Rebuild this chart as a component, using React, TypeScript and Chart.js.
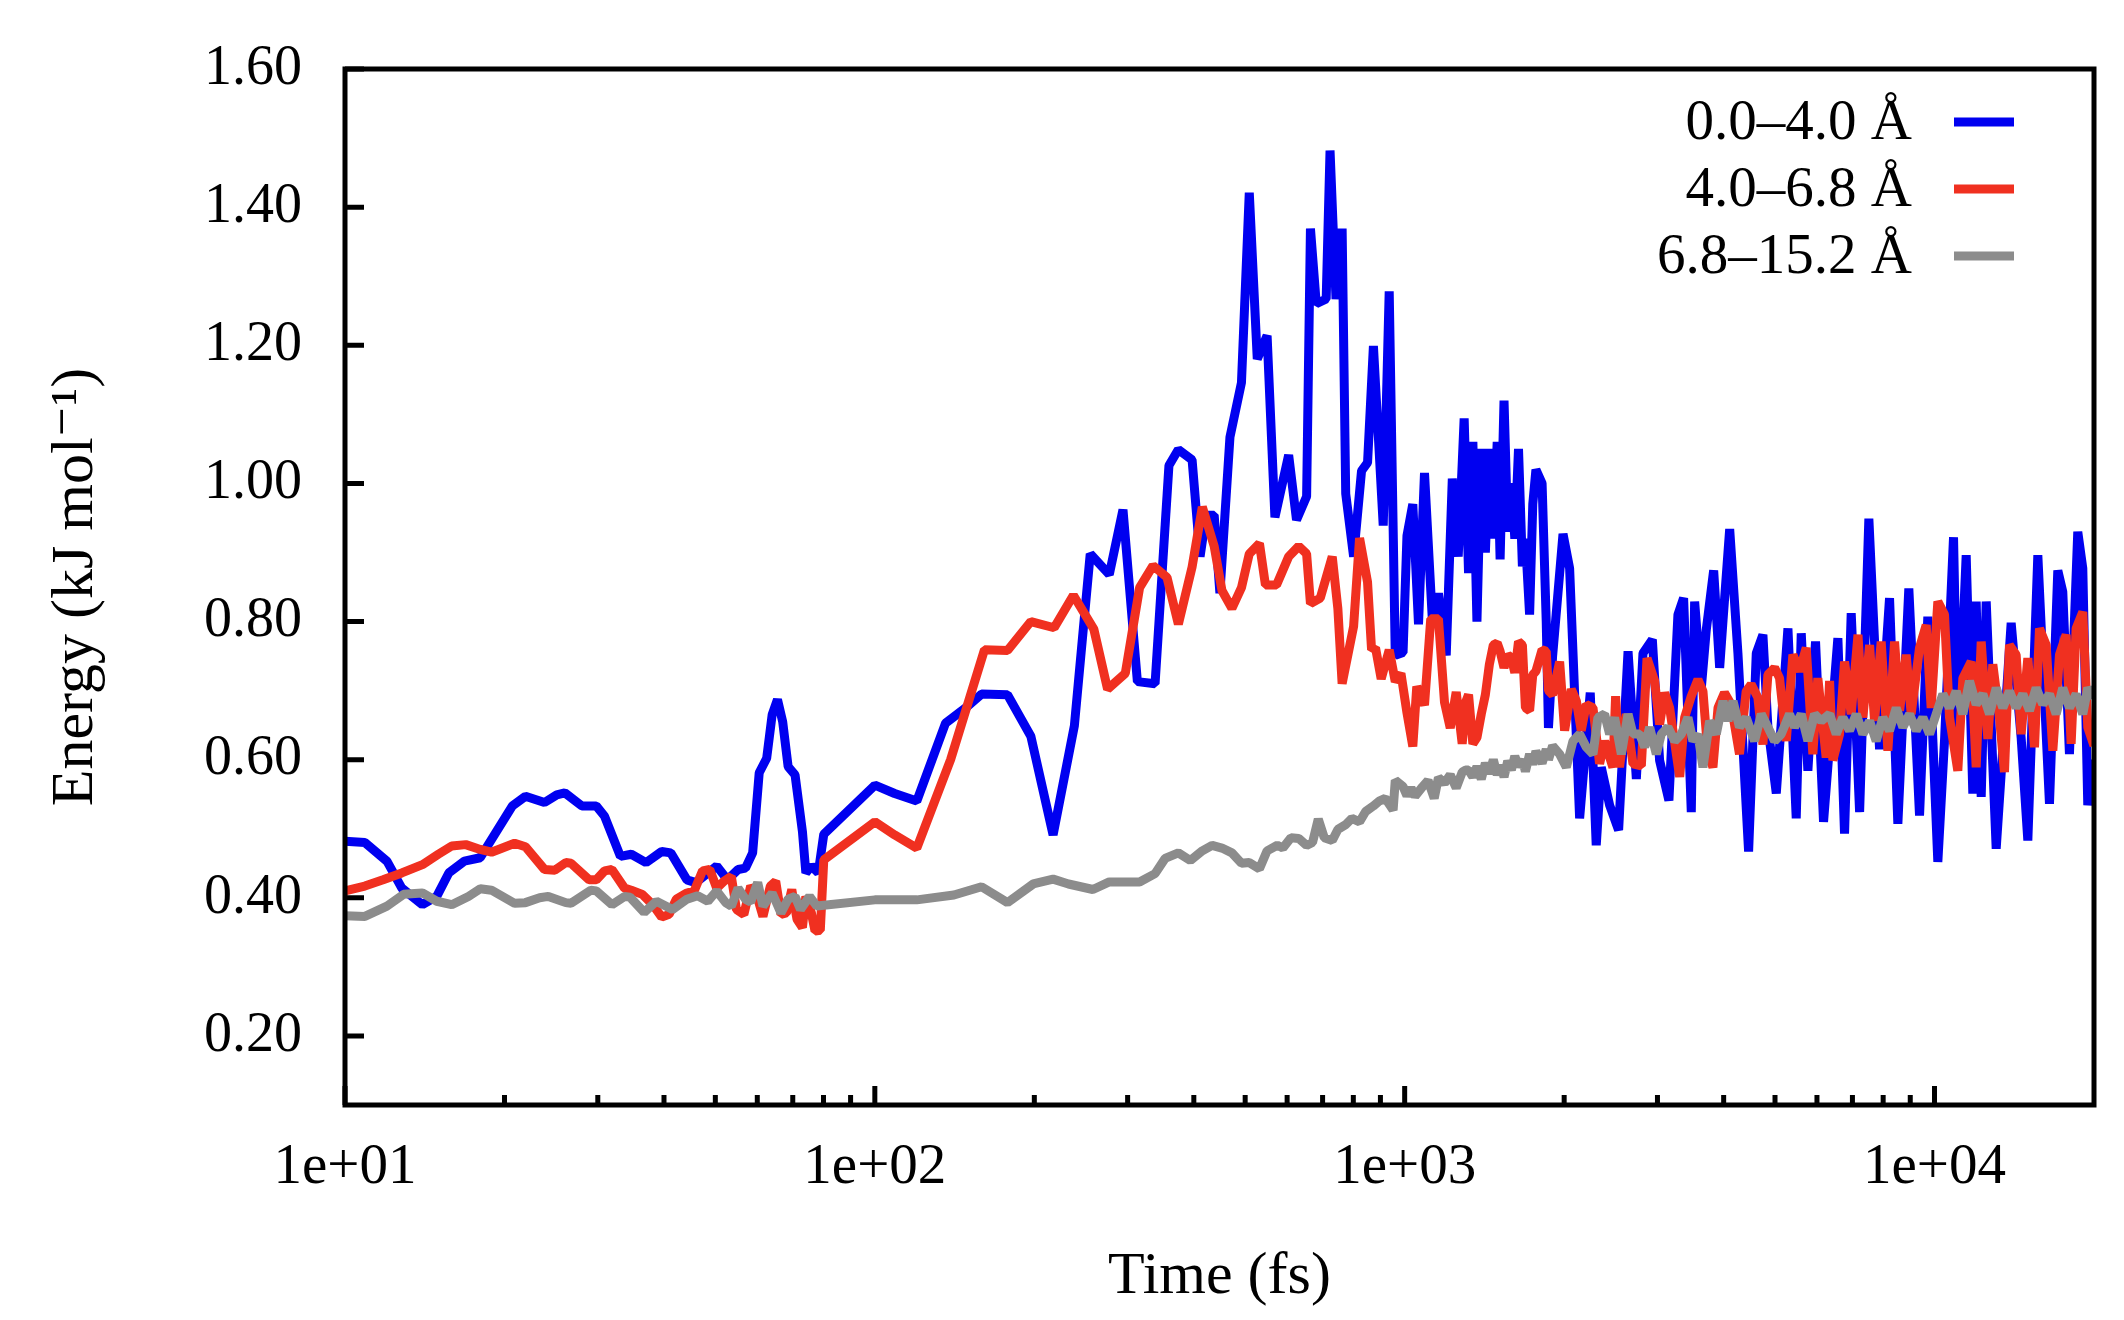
import { useEffect, useRef } from "react"
import { Chart, registerables } from "chart.js"

Chart.register(...registerables)

const blueTime = [
  10, 10.9, 12, 12.8, 14, 14.9, 15.7, 16.8, 18, 20.7,
  21.9, 23.8, 25.1, 26, 28, 29.8, 30.9, 33.1, 34.7, 37,
  39.6, 41.2, 44.2, 45.9, 50.3, 52.7, 55.2, 57, 58.8, 60.5,
  62.5, 64, 65.5, 67, 68.6, 70.7, 73, 74.1, 75.9, 78.2,
  80.1,
  100, 109, 120, 136, 149, 159, 178, 197, 217, 238,
  255, 277, 294, 313, 338, 359, 374, 397, 411, 422,
  437, 448, 468, 492, 509, 527, 550, 569, 604, 625,
  653, 664, 681, 711, 723, 742, 762, 774, 801, 829,
  851, 873, 911, 935, 960, 993, 1010, 1036, 1062, 1090,
  1129, 1158, 1198, 1230, 1262, 1295,
]
const blueEnergy = [
  0.482, 0.48, 0.453, 0.414, 0.39, 0.402, 0.436, 0.453, 0.458, 0.533,
  0.547, 0.538, 0.549, 0.552, 0.533, 0.533, 0.518, 0.46, 0.463, 0.451,
  0.467, 0.465, 0.426, 0.422, 0.446, 0.426, 0.441, 0.443, 0.465, 0.581,
  0.602, 0.665, 0.687, 0.655, 0.59, 0.578, 0.496, 0.436, 0.446, 0.436,
  0.492,
  0.563, 0.551, 0.54, 0.653, 0.676, 0.695, 0.694, 0.634, 0.491, 0.649,
  0.898, 0.868, 0.962, 0.713, 0.71, 1.026, 1.049, 1.034, 0.894, 0.954,
  0.954, 0.841, 1.067, 1.146, 1.421, 1.18, 1.214, 0.951, 1.041, 0.947,
  0.981, 1.369, 1.26, 1.267, 1.482, 1.267, 1.369, 0.985, 0.894, 1.018,
  1.03, 1.199, 0.939, 1.278, 0.751, 0.755, 0.924, 0.97, 0.796, 1.015,
  0.796, 0.841, 0.751, 1.007, 0.894, 1.094,
]

const redTime = [
  10, 10.9, 11.8, 12.8, 14, 15, 15.9, 16.9, 18, 18.9,
  20.9, 21.9, 23.8, 24.9, 26.1, 26.7, 28.9, 29.8, 30.9, 31.9,
  33.7, 34.7, 36.4, 38.1, 39.6, 40.9, 42.2, 44.2, 45.6, 47.3,
  48.8, 50.3, 51.9, 53.6, 54.8, 56.6, 58.3, 59.7, 61.5, 63.5,
  65, 66.5, 68.1, 69.7, 71.3, 73, 74.1, 75.9, 77.1, 78.9,
  80.1,
  100, 109, 120, 139, 161, 178, 197, 218, 237, 259,
  275, 297, 316, 335, 356, 374, 397, 415, 437, 452,
  472, 492, 509, 532, 546, 573, 604, 631, 653, 664,
  693, 730, 748, 762, 801, 822, 851, 866, 881, 903,
  935, 960, 984, 1010, 1036, 1054, 1090, 1120, 1158, 1189,
  1219, 1251, 1284, 1303,
]
const redEnergy = [
  0.41, 0.417, 0.426, 0.436, 0.448, 0.463, 0.475, 0.477, 0.47, 0.466,
  0.479, 0.474, 0.441, 0.44, 0.451, 0.45, 0.426, 0.426, 0.439, 0.441,
  0.414, 0.411, 0.405, 0.39, 0.372, 0.376, 0.398, 0.407, 0.41, 0.439,
  0.441, 0.414, 0.424, 0.431, 0.383, 0.376, 0.417, 0.407, 0.373, 0.417,
  0.424, 0.376, 0.378, 0.412, 0.369, 0.357, 0.402, 0.378, 0.352, 0.353,
  0.455,
  0.51, 0.491, 0.472, 0.6, 0.759, 0.758, 0.8, 0.791, 0.838, 0.789,
  0.702, 0.725, 0.849, 0.881, 0.864, 0.796, 0.879, 0.966, 0.909, 0.845,
  0.819, 0.849, 0.898, 0.913, 0.853, 0.853, 0.894, 0.909, 0.898, 0.826,
  0.834, 0.894, 0.819, 0.71, 0.793, 0.921, 0.857, 0.759, 0.762, 0.717,
  0.759, 0.713, 0.725, 0.668, 0.619, 0.706, 0.679, 0.804, 0.804, 0.683,
  0.646, 0.698, 0.623, 0.683,
]

const grayTime = [
  10, 10.9, 12, 12.9, 14, 14.9, 15.9, 17.1, 18, 18.9,
  20.9, 21.9, 23.3, 24.2, 26.1, 26.7, 29.1, 29.8, 31.9, 33.7,
  34.5, 36.7, 38.7, 41.5, 44.2, 46.3, 48.4, 50.3, 52.3, 53.6,
  55.2, 57, 58.3, 60.1, 61.5, 64, 66.5, 68.6, 70.7, 72.4,
  75.3, 77.7,
  100, 120, 141, 159, 178, 199, 217, 232, 258, 277,
  316, 338, 353, 374, 394, 415, 433, 452, 472, 492,
  509, 532, 550, 575, 589, 610, 631, 653, 670, 687,
  705, 730, 748, 774, 795, 822, 844, 873, 895, 919,
  951, 960, 993, 1010, 1028, 1046, 1081, 1107, 1137, 1158,
  1189, 1219, 1251, 1284, 1303,
]
const grayEnergy = [
  0.374, 0.373, 0.388, 0.405, 0.407, 0.395, 0.39, 0.402, 0.413, 0.411,
  0.392, 0.393, 0.4, 0.402, 0.393, 0.392, 0.411, 0.41, 0.39, 0.402,
  0.401, 0.379, 0.395, 0.383, 0.398, 0.403, 0.395, 0.41, 0.393, 0.388,
  0.414, 0.398, 0.394, 0.422, 0.388, 0.407, 0.378, 0.398, 0.402, 0.383,
  0.402, 0.388,
  0.397, 0.397, 0.404, 0.416, 0.393, 0.42, 0.427, 0.42, 0.412, 0.423,
  0.423, 0.435, 0.457, 0.465, 0.454, 0.468, 0.476, 0.472, 0.465, 0.45,
  0.451, 0.442, 0.468, 0.476, 0.472, 0.487, 0.486, 0.476, 0.48, 0.514,
  0.487, 0.483, 0.499, 0.506, 0.515, 0.51, 0.525, 0.533, 0.54, 0.544,
  0.527, 0.57, 0.561, 0.548, 0.559, 0.547, 0.561, 0.57, 0.544, 0.574,
  0.566, 0.578, 0.559, 0.582, 0.585,
]

// Noisy tail (1.3 ps - 20 ps)
const blueTailTime = [
  1320, 1345, 1369, 1395, 1420, 1445, 1470, 1495, 1514, 1540,
  1565, 1590, 1614, 1640, 1668, 1690, 1721, 1745, 1769, 1817,
  1850, 1868, 1902,
  1990, 2048, 2139, 2240, 2299, 2350, 2437, 2534, 2640, 2737,
  2817, 2934, 3028, 3153, 3279, 3361, 3475, 3526, 3630, 3709,
  3830, 3931, 3989, 4106, 4256, 4458, 4609, 4744, 4848, 5028,
  5289, 5483, 5604, 5768, 5963, 6174,
  6571, 6764, 6963, 7222, 7518, 7876, 8225, 8528, 8944, 9370,
  9714, 10146, 10444, 10862, 11066, 11476, 11812, 11985, 12250, 12519,
  13075, 13954, 14572, 15002, 15668, 16482, 17089, 17463, 17976, 18638,
  19049, 19467, 20000,
]
const blueTail = [
  0.87, 1.06, 0.8, 1.05, 0.9, 1.05, 0.92, 1.06, 0.89, 1.12,
  0.93, 1.0, 0.92, 1.05, 0.88, 0.92, 0.81, 0.97, 1.02, 1.0,
  0.8, 0.646, 0.75,
  0.927, 0.877, 0.515, 0.697, 0.476, 0.589, 0.534, 0.498, 0.757, 0.572,
  0.754, 0.774, 0.599, 0.541, 0.81, 0.834, 0.524, 0.829, 0.704, 0.788,
  0.874, 0.733, 0.802, 0.934, 0.754, 0.467, 0.754, 0.781, 0.647, 0.551,
  0.79, 0.515, 0.783, 0.584, 0.771, 0.51,
  0.776, 0.493, 0.812, 0.524, 0.949, 0.615, 0.834, 0.507, 0.848, 0.519,
  0.807, 0.452, 0.627, 0.922, 0.608, 0.896, 0.551, 0.829, 0.546, 0.829,
  0.471, 0.798, 0.632, 0.483, 0.896, 0.536, 0.874, 0.843, 0.608, 0.93,
  0.877, 0.534, 0.6,
]

const redTailTime = [
  1320, 1345, 1369, 1395, 1420, 1445, 1470, 1495, 1514, 1540,
  1565, 1590, 1614, 1640, 1668, 1690, 1721, 1745, 1769, 1817,
  1850, 1868, 1902,
  1961, 2004, 2063, 2109, 2154, 2202, 2267, 2333, 2384, 2472,
  2501, 2544, 2620, 2697, 2797, 2867, 2963, 3028, 3095, 3163,
  3304, 3376, 3475, 3577, 3656, 3736, 3818, 3903, 4014, 4133,
  4285, 4411, 4508, 4641, 4744, 4848, 4991, 5100, 5251, 5404,
  5563, 5727, 5894, 6023, 6245,
  6338, 6429, 6620, 6764, 6963, 7171, 7325, 7542, 7706, 7932,
  8166, 8406, 8593, 8842, 9036, 9370, 9645, 9856, 10146, 10444,
  10674, 11066, 11311, 11728, 11985, 12250, 12608, 12885, 13263, 13554,
  13851, 14259, 14572, 15002, 15443, 15781, 16246, 16723, 17215, 17720,
  18109, 18506, 19049, 19467, 20000,
]
const redTail = [
  0.694, 0.623, 0.632, 0.666, 0.694, 0.738, 0.766, 0.769, 0.757, 0.733,
  0.752, 0.747, 0.726, 0.771, 0.766, 0.675, 0.671, 0.723, 0.728, 0.759,
  0.757, 0.7, 0.694,
  0.742, 0.642, 0.702, 0.685, 0.642, 0.68, 0.675, 0.594, 0.627, 0.589,
  0.692, 0.589, 0.666, 0.594, 0.591, 0.747, 0.714, 0.651, 0.697, 0.675,
  0.575, 0.661, 0.692, 0.716, 0.699, 0.608, 0.589, 0.675, 0.697, 0.68,
  0.608, 0.699, 0.709, 0.69, 0.622, 0.723, 0.733, 0.718, 0.627, 0.752,
  0.728, 0.762, 0.608, 0.718, 0.603,
  0.714, 0.599, 0.637, 0.742, 0.666, 0.781, 0.661, 0.766, 0.656, 0.771,
  0.613, 0.771, 0.671, 0.752, 0.666, 0.762, 0.795, 0.675, 0.829, 0.81,
  0.661, 0.584, 0.718, 0.742, 0.589, 0.771, 0.63, 0.738, 0.661, 0.582,
  0.766, 0.752, 0.637, 0.747, 0.618, 0.79, 0.766, 0.613, 0.752, 0.781,
  0.623, 0.79, 0.814, 0.647, 0.62,
]

const grayTailTime = [
  1320, 1345, 1369, 1395, 1420, 1445, 1470, 1495, 1514, 1540,
  1565, 1590, 1614, 1640, 1668, 1690, 1721, 1745, 1769, 1817,
  1850, 1868, 1902,
  1961, 2019, 2078, 2139, 2202, 2267, 2316, 2384, 2437, 2490,
  2564, 2640, 2697, 2777, 2838, 2900, 2985, 3050, 3140, 3233,
  3328, 3425, 3500, 3577, 3656, 3763, 3874, 3989, 4076, 4166,
  4285, 4411, 4575, 4710, 4848, 4991, 5137, 5326, 5443, 5604,
  5768, 5937, 6112,
  6338, 6524, 6715, 6912, 7117, 7325, 7542, 7762, 7990, 8225,
  8467, 8716, 8972, 9235, 9506, 9786, 10073, 10369, 10674, 10987,
  11311, 11644, 11985, 12338, 12701, 13075, 13459, 13851, 14259, 14679,
  15110, 15554, 16012, 16482, 16967, 17463, 17976, 18506, 19049, 19467,
  20000,
]
const grayTail = [
  0.585, 0.575, 0.59, 0.572, 0.595, 0.58, 0.6, 0.578, 0.592, 0.575,
  0.598, 0.585, 0.605, 0.59, 0.6, 0.583, 0.608, 0.593, 0.612, 0.595,
  0.615, 0.6, 0.62,
  0.608, 0.589, 0.627, 0.637, 0.618, 0.608, 0.661, 0.666, 0.637, 0.661,
  0.608, 0.666, 0.637, 0.637, 0.618, 0.647, 0.608, 0.637, 0.647, 0.627,
  0.637, 0.661, 0.627, 0.637, 0.589, 0.656, 0.637, 0.685, 0.656, 0.685,
  0.647, 0.661, 0.627, 0.666, 0.647, 0.627, 0.637, 0.666, 0.647, 0.666,
  0.627, 0.666, 0.656,
  0.666, 0.637, 0.661, 0.642, 0.666, 0.637, 0.656, 0.627, 0.661, 0.642,
  0.675, 0.647, 0.666, 0.642, 0.661, 0.637, 0.666, 0.695, 0.675, 0.699,
  0.666, 0.714, 0.68, 0.695, 0.666, 0.704, 0.675, 0.699, 0.675, 0.695,
  0.671, 0.704, 0.68, 0.695, 0.666, 0.704, 0.675, 0.695, 0.666, 0.704,
  0.69,
]

const seriesLabels = ["0.0–4.0 Å", "4.0–6.8 Å", "6.8–15.2 Å"]
const seriesColors = ["#0000f0", "#f03020", "#8c8c8c"]

const yTickValues = [0.2, 0.4, 0.6, 0.8, 1.0, 1.2, 1.4, 1.6]
const xTickValues = [10, 100, 1000, 10000]
const xTickLabels = ["1e+01", "1e+02", "1e+03", "1e+04"]
const xMinorTicks = [
  20, 30, 40, 50, 60, 70, 80, 90,
  200, 300, 400, 500, 600, 700, 800, 900,
  2000, 3000, 4000, 5000, 6000, 7000, 8000, 9000,
]

const serif = "'Liberation Serif', 'DejaVu Serif', serif"

const toPoints = (t: number[], e: number[]) => t.map((x, i) => ({ x, y: e[i] }))

// gnuplot-style frame: thick border, inward ticks, key in the top right corner
const framePlugin = {
  id: "frame",
  afterDatasetsDraw(chart: Chart) {
    const { ctx, chartArea: a, scales } = chart
    ctx.save()
    ctx.strokeStyle = "#000"
    ctx.lineWidth = 5
    ctx.lineCap = "butt"
    ctx.beginPath()
    yTickValues.forEach((v) => {
      const y = scales.y.getPixelForValue(v)
      ctx.moveTo(a.left, y)
      ctx.lineTo(a.left + 19, y)
    })
    xTickValues.forEach((v) => {
      const x = scales.x.getPixelForValue(v)
      ctx.moveTo(x, a.bottom)
      ctx.lineTo(x, a.bottom - 19)
    })
    xMinorTicks.forEach((v) => {
      const x = scales.x.getPixelForValue(v)
      ctx.moveTo(x, a.bottom)
      ctx.lineTo(x, a.bottom - 10)
    })
    ctx.stroke()
    ctx.strokeRect(a.left, a.top, a.right - a.left, a.bottom - a.top)

    ctx.font = `57px ${serif}`
    ctx.fillStyle = "#000"
    ctx.textAlign = "right"
    ctx.textBaseline = "middle"
    ctx.lineWidth = 9
    seriesLabels.forEach((label, i) => {
      const y = a.top + 53 + i * 67
      ctx.fillText(label, a.right - 182, y + 2)
      ctx.strokeStyle = seriesColors[i]
      ctx.beginPath()
      ctx.moveTo(a.right - 140, y)
      ctx.lineTo(a.right - 80, y)
      ctx.stroke()
    })
    ctx.restore()
  },
}

export default function App() {
  const chartRef = useRef<HTMLCanvasElement | null>(null)
  const chartInstance = useRef<Chart | null>(null)

  useEffect(() => {
    if (!chartRef.current) return

    if (chartInstance.current) {
      chartInstance.current.destroy()
    }

    const ctx = chartRef.current.getContext("2d")
    if (!ctx) return

    const series = [
      [...toPoints(blueTime, blueEnergy), ...toPoints(blueTailTime, blueTail)],
      [...toPoints(redTime, redEnergy), ...toPoints(redTailTime, redTail)],
      [...toPoints(grayTime, grayEnergy), ...toPoints(grayTailTime, grayTail)],
    ]

    chartInstance.current = new Chart(ctx, {
      type: "line",
      data: {
        datasets: series.map((data, i) => ({
          label: seriesLabels[i],
          data,
          borderColor: seriesColors[i],
          backgroundColor: seriesColors[i],
          borderWidth: 9,
          borderJoinStyle: "bevel" as const,
          pointRadius: 0,
          tension: 0,
          order: 3 - i,
        })),
      },
      options: {
        animation: false,
        responsive: true,
        maintainAspectRatio: false,
        layout: { padding: { top: 69, right: 30, left: 0, bottom: 0 } },
        plugins: {
          legend: { display: false },
          tooltip: { enabled: false },
        },
        scales: {
          x: {
            type: "logarithmic",
            position: "bottom",
            min: 10,
            max: 20000,
            grid: { display: false, drawTicks: false },
            border: { display: false },
            afterBuildTicks: (scale) => {
              scale.ticks = xTickValues.map((value) => ({ value }))
            },
            afterFit: (scale) => {
              scale.height = 215
            },
            ticks: {
              autoSkip: false,
              maxRotation: 0,
              padding: 29,
              color: "#000",
              font: { family: serif, size: 57 },
              callback: (value) => xTickLabels[xTickValues.indexOf(Number(value))] ?? "",
            },
            title: {
              display: true,
              text: "Time (fs)",
              color: "#000",
              font: { family: serif, size: 60 },
              padding: { top: 0, bottom: 7 },
            },
          },
          y: {
            type: "linear",
            min: 0.1,
            max: 1.6,
            grid: { display: false, drawTicks: false },
            border: { display: false },
            afterBuildTicks: (scale) => {
              scale.ticks = yTickValues.map((value) => ({ value }))
            },
            afterFit: (scale) => {
              scale.width = 345
              // keep the label overhang from pushing the plot frame down
              scale.paddingTop = 0
              scale.paddingBottom = 0
            },
            ticks: {
              padding: 43,
              color: "#000",
              font: { family: serif, size: 56 },
              callback: (value) => Number(value).toFixed(2),
            },
            title: {
              display: true,
              text: "Energy (kJ mol⁻¹)",
              color: "#000",
              font: { family: serif, size: 60 },
              padding: { top: 40, bottom: 0 },
            },
          },
        },
      },
      plugins: [framePlugin],
    })

    return () => {
      if (chartInstance.current) {
        chartInstance.current.destroy()
        chartInstance.current = null
      }
    }
  }, [])

  return (
    <div style={{ position: "fixed", left: 0, top: 0, width: 2124, height: 1320, background: "#fff" }}>
      <canvas ref={chartRef} />
    </div>
  )
}
